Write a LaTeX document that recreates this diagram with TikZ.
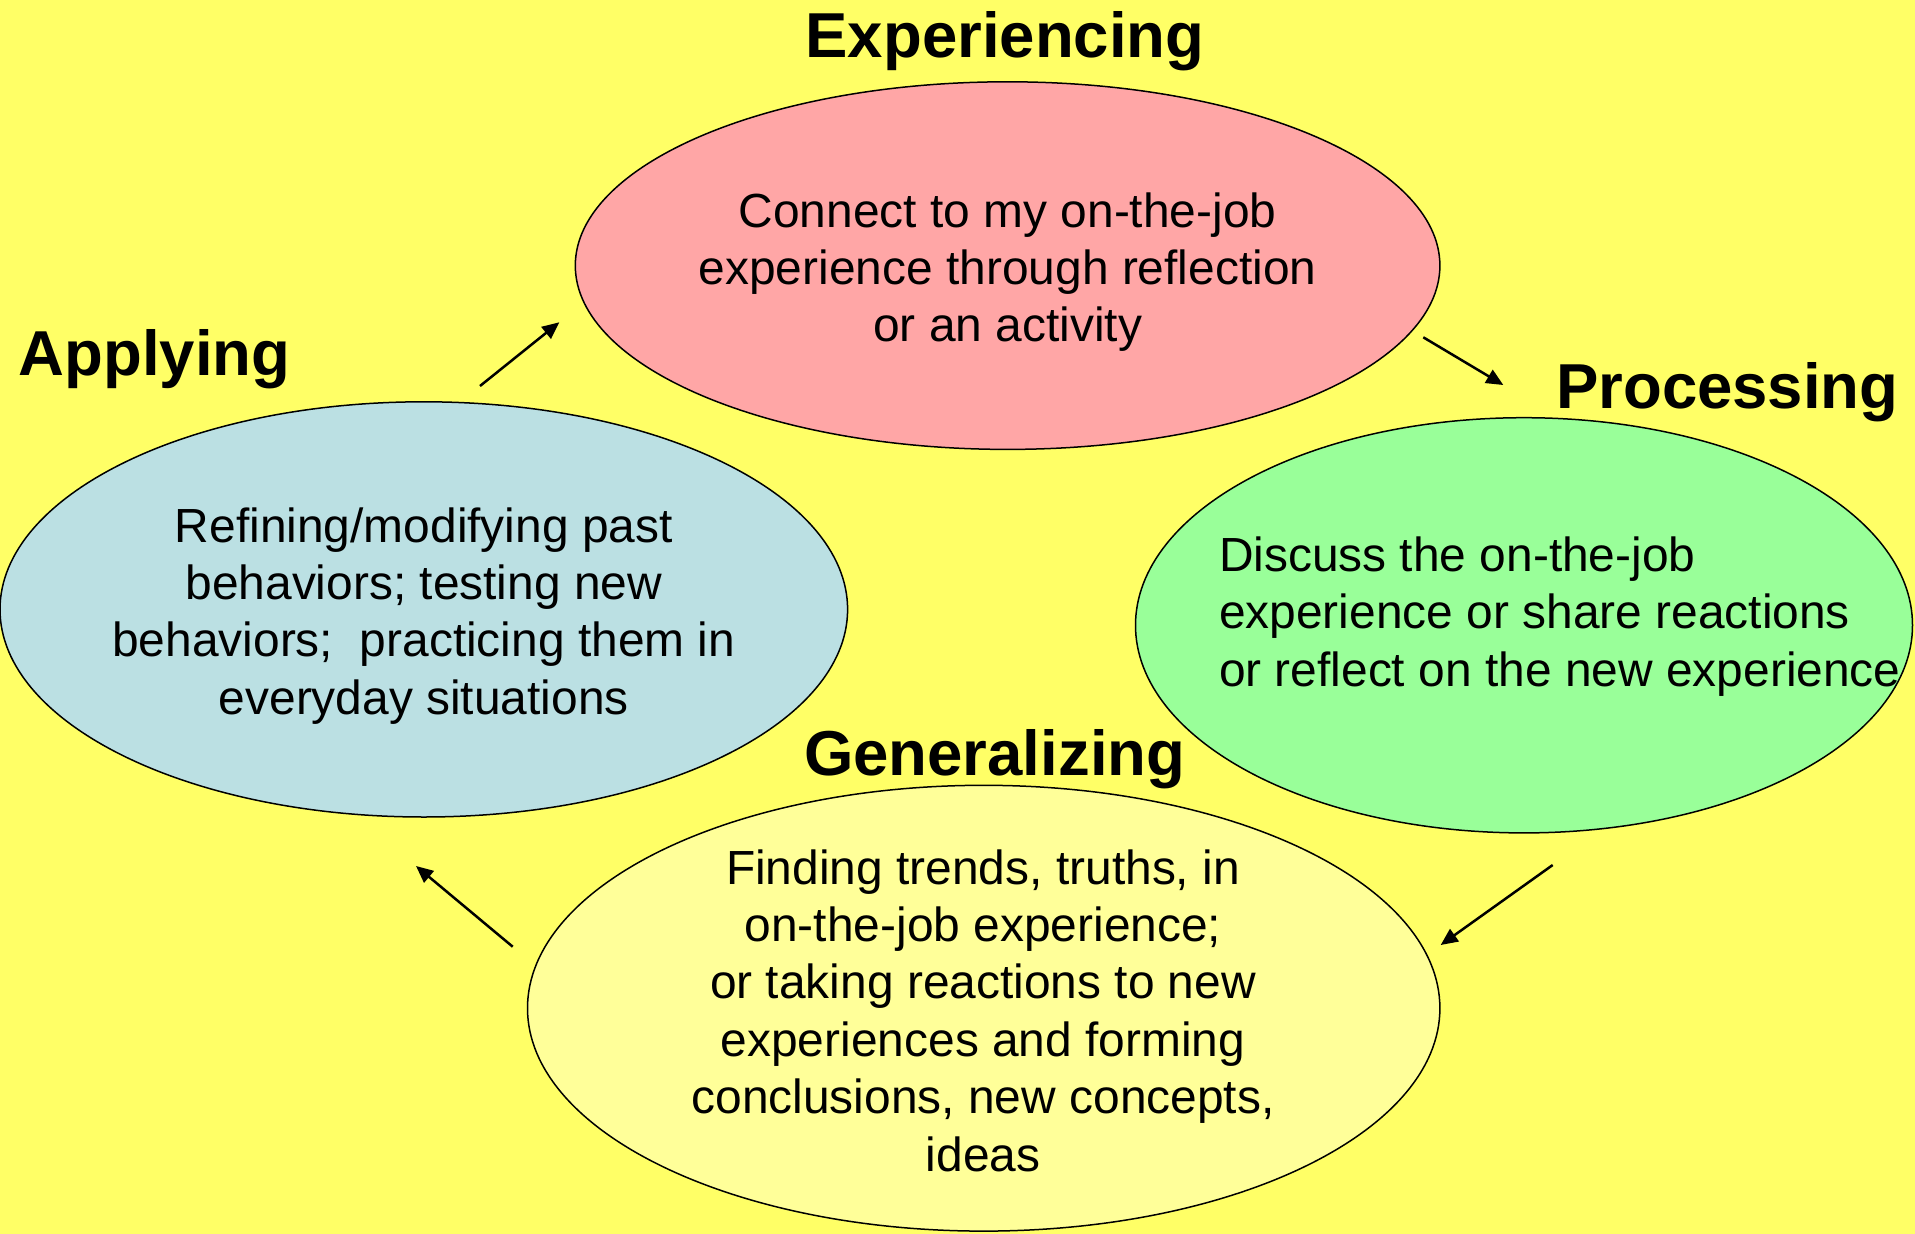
\documentclass[tikz,border=0pt]{standalone}
\usepackage{fontspec}
\setmainfont{Liberation Sans}
\usetikzlibrary{shapes.geometric,arrows.meta}
\definecolor{bgc}{HTML}{FFFF66}
\definecolor{pinkc}{HTML}{FFA6A6}
\definecolor{bluec}{HTML}{BBE0E3}
\definecolor{greenc}{HTML}{99FF99}
\definecolor{lyelc}{HTML}{FFFF99}
\tikzset{
  ell/.style={ellipse, draw=black, line width=1.5pt, inner sep=0pt},
  body/.style={font=\fontsize{47.9}{57.4}\selectfont, inner sep=0pt, anchor=base},
  ttl/.style={font=\fontsize{63.5}{70}\selectfont\bfseries, inner sep=0pt, anchor=base},
  arr/.style={line width=2.5pt, -{Triangle[length=17pt,width=15pt]}}
}
\begin{document}
\begin{tikzpicture}[x=1pt,y=-1pt]
\fill[bgc] (0,0) rectangle (1915,1234);
\useasboundingbox (0,0) rectangle (1915,1234);
% ellipses
\node[ell, fill=pinkc, minimum width=864.6pt, minimum height=367.6pt] (exp) at (1007.6,265.6) {};
\node[ell, fill=bluec, minimum width=847.6pt, minimum height=415.2pt] (app) at (423.8,609.4) {};
\node[ell, fill=greenc, minimum width=777pt, minimum height=415.2pt] (pro) at (1524,625.3) {};
\node[ell, fill=lyelc, minimum width=912.4pt, minimum height=445.8pt] (gen) at (983.7,1008.2) {};
% titles
\node[ttl] (texp) at (1005,57.3) {Experiencing};
\node[ttl] (tapp) at (154.5,375.7) {Applying};
\node[ttl] (tpro) at (1727.3,408.3) {Processing};
\node[ttl] (tgen) at (994.7,775) {Generalizing};
% body texts (base anchor = baseline of the last line)
\node[body, align=center] (bexp) at (1007.6,341.8) {Connect to my on-the-job\\experience through reflection\\or an activity};
\node[body, align=center] (bapp) at (423.8,714.2) {Refining/modifying past\\behaviors; testing new\\behaviors;~ practicing them in\\everyday situations};
\node[body, align=left, anchor=base west] (bpro) at (1218.8,686.3) {Discuss the on-the-job\\experience or share reactions\\or reflect on the new experience};
\node[body, align=center] (bgen) at (983,1171) {Finding trends, truths, in\\on-the-job experience;\\or taking reactions to new\\experiences and forming\\conclusions, new concepts,\\ideas};
% arrows
\coordinate (a1s) at (480,386);
\coordinate (a1e) at (559.3,322.3);
\coordinate (a2s) at (1423.3,337.3);
\coordinate (a2e) at (1503.3,385);
\coordinate (a3s) at (1552.7,865);
\coordinate (a3e) at (1440.7,945);
\coordinate (a4s) at (512.7,946.7);
\coordinate (a4e) at (416,866);
\draw[arr] (a1s) -- (a1e);
\draw[arr] (a2s) -- (a2e);
\draw[arr] (a3s) -- (a3e);
\draw[arr] (a4s) -- (a4e);
\end{tikzpicture}
\end{document}
